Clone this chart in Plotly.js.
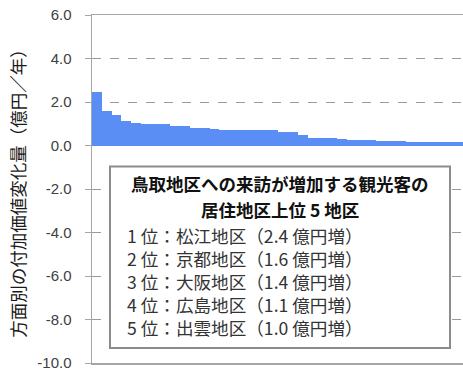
<!DOCTYPE html>
<html><head><meta charset="utf-8">
<script src="https://cdn.plot.ly/plotly-3.0.1.min.js"></script>
<style>body{margin:0;padding:0;background:#fff}#chart{width:463px;height:371px}</style>
</head><body><div id="chart"></div>
<script>
// Rank of residence area (sorted by increase), value in 億円/年
var ranks = [1,2,3,4,5,6,7,8,9,10,11,12,13,14,15,16,17,18,19,20,21,22,23,24,25,26,27,28,29,30,31,32,33,34,35,36,37,38];
var values = [2.45,1.6,1.42,1.12,1.05,0.98,0.98,0.98,0.88,0.88,0.8,0.8,0.78,0.72,0.71,0.71,0.71,0.71,0.71,0.63,0.6,0.5,0.36,0.35,0.34,0.32,0.27,0.27,0.27,0.23,0.23,0.23,0.18,0.18,0.18,0.18,0.18,0.17];
var yTicks = [-10,-8,-6,-4,-2,0,2,4,6];
var yTickText = ['-10.0','-8.0','-6.0','-4.0','-2.0','0.0','2.0','4.0','6.0'];
var boxTitle = ['鳥取地区への来訪が増加する観光客の','居住地区上位 5 地区'];
var topFive = ['1 位：松江地区（2.4 億円増）','2 位：京都地区（1.6 億円増）','3 位：大阪地区（1.4 億円増）','4 位：広島地区（1.1 億円増）','5 位：出雲地区（1.0 億円増）'];

var jp = '"Noto Sans CJK JP", "Noto Sans", sans-serif';
var annotations = [];
var titleY = [-1.73, -2.96];
boxTitle.forEach(function(t, i){
  annotations.push({text: '<b>'+t+'</b>', xref:'paper', yref:'y', x:0.507, y:titleY[i], xanchor:'center', yanchor:'middle', showarrow:false, font:{family:jp, size:17.5, color:'#111'}});
});
annotations.push({text: topFive.join('<br>'), xref:'paper', yref:'y', x:0.089, y:-6.25, xanchor:'left', yanchor:'middle', align:'left', showarrow:false, font:{family:jp, size:17.6, color:'#333'}});

var trace = {type:'bar', x:ranks.map(function(r){return r-1;}), y:values, marker:{color:'#5B8EF5', line:{width:0}}, hoverinfo:'skip'};
var layout = {
  width:463, height:371,
  margin:{l:92, r:0, t:15, b:8},
  paper_bgcolor:'#fff', plot_bgcolor:'#fff',
  bargap:0, showlegend:false,
  xaxis:{range:[-0.5,37.36], showticklabels:false, ticks:'', showgrid:false, zeroline:false, showline:true, mirror:true, linecolor:'#a6a6a6', linewidth:1.5, fixedrange:true},
  yaxis:{range:[-10,6], tickvals:yTicks, ticktext:yTickText, ticks:'outside', ticklen:6, tickcolor:'#a6a6a6', tickwidth:1,
    showgrid:true, gridcolor:'#9a9a9a', griddash:'dash', gridwidth:1, zeroline:false, showline:true, linecolor:'#a6a6a6', linewidth:1.5,
    ticklabelstandoff:10, ticklabeloverflow:'allow',
    tickfont:{family:'"Liberation Sans", Arial, sans-serif', size:15, color:'#404040'},
    title:{text:'方面別の付加価値変化量（億円／年）', standoff:7, font:{family:jp, size:17.5, color:'#1a1a1a'}}},
  shapes:[{type:'rect', xref:'paper', yref:'y', x0:0.0485, x1:0.965, y0:-9.31, y1:-0.97, line:{color:'#8c8c8c', width:2}, fillcolor:'#fff', layer:'above'}],
  annotations:annotations
};
Plotly.newPlot('chart', [trace], layout, {displayModeBar:false, staticPlot:true});
</script></body></html>
